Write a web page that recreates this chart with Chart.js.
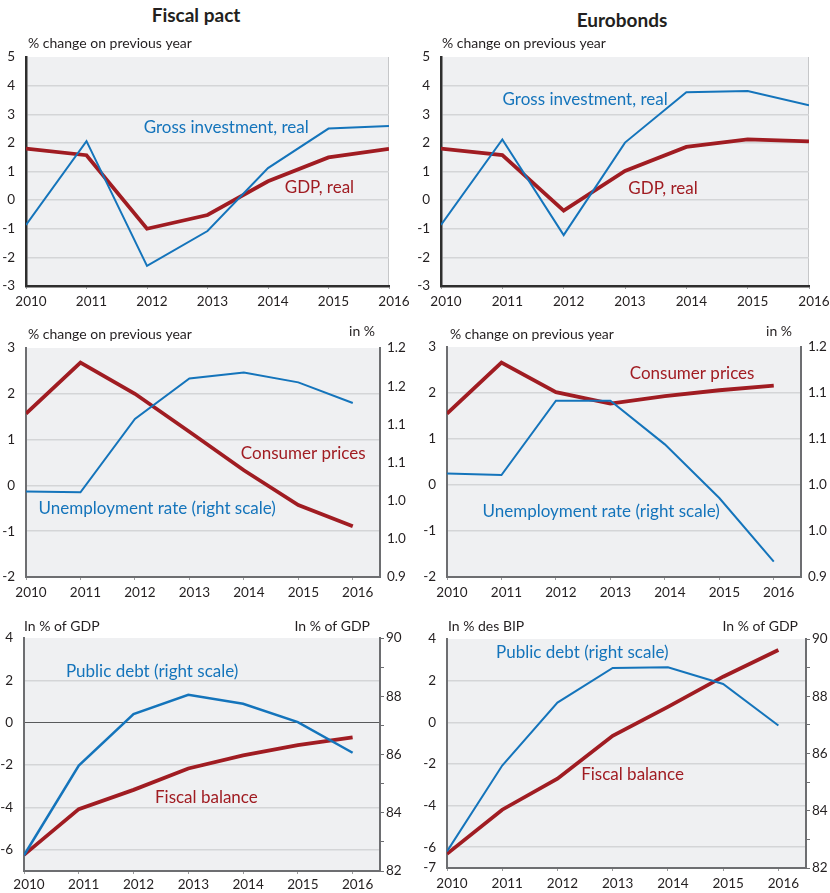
<!DOCTYPE html>
<html>
<head>
<meta charset="utf-8">
<script src="https://cdn.jsdelivr.net/npm/chart.js@4.4.1/dist/chart.umd.min.js"></script>
<style>
body { margin: 0; background: #fff; }
#wrap { position: relative; width: 830px; height: 893px; overflow: hidden; }
canvas { position: absolute; }
.title { position: absolute; font: bold 19px Lato; line-height: 20px; color: #231f20; transform: translateX(-50%); white-space: nowrap; }
</style>
</head>
<body>
<div id="wrap">
	<div class="title" style="left:196px;top:5px">Fiscal pact</div>
	<div class="title" style="left:622px;top:10px">Eurobonds</div>
	<canvas id="c1"></canvas>
	<canvas id="c2"></canvas>
	<canvas id="c3"></canvas>
	<canvas id="c4"></canvas>
	<canvas id="c5"></canvas>
	<canvas id="c6"></canvas>
</div>
<script>
"use strict";

// 1: data
const years = [2010, 2011, 2012, 2013, 2014, 2015, 2016];

// growth, % change on previous year
const fpGdp = [1.8, 1.57, -1.0, -0.52, 0.66, 1.49, 1.79];
const fpInvest = [-0.87, 2.06, -2.3, -1.08, 1.12, 2.5, 2.59];
const ebGdp = [1.8, 1.57, -0.37, 1.02, 1.86, 2.12, 2.05];
const ebInvest = [-0.87, 2.12, -1.22, 2.01, 3.77, 3.81, 3.31];

// consumer prices (left) and unemployment rate (right)
const fpPrices = [1.57, 2.68, 2.0, 1.17, 0.33, -0.43, -0.89];
const fpUnemp = [1.012, 1.011, 1.107, 1.160, 1.168, 1.155, 1.128];
const ebPrices = [1.55, 2.66, 2.02, 1.77, 1.93, 2.06, 2.16];
const ebUnemp = [1.035, 1.033, 1.13, 1.13, 1.073, 1.003, 0.92];

// fiscal balance (left) and public debt (right), in % of GDP
const fpBalance = [-6.24, -4.08, -3.17, -2.16, -1.54, -1.06, -0.69];
const fpDebt = [82.54, 85.62, 87.39, 88.05, 87.74, 87.11, 86.06];
const ebBalance = [-6.32, -4.2, -2.71, -0.65, 0.74, 2.19, 3.47];
const ebDebt = [82.58, 85.58, 87.78, 88.99, 89.01, 88.43, 86.98];

// tick values and labels
const growthTicks = [-3, -2, -1, 0, 1, 2, 3, 4, 5];
const priceTicks = [-2, -1, 0, 1, 2, 3];
const unempTicksFp = [0.9, 0.95, 1.0, 1.05, 1.1, 1.15, 1.2];
const unempLabelsFp = ['0.9', '1.0', '1.0', '1.1', '1.1', '1.2', '1.2'];
const unempTicksEb = [0.9, 0.96, 1.02, 1.08, 1.14, 1.2];
const unempLabelsEb = ['0.9', '1.0', '1.0', '1.1', '1.1', '1.2'];
const balanceTicksFp = [-6, -4, -2, 0, 2, 4];
const balanceTicksEb = [-7, -6, -4, -2, 0, 2, 4];
const debtTicks = [82, 83, 84, 85, 86, 87, 88, 89, 90];
const debtLabels = ['82', '', '84', '', '86', '', '88', '', '90'];

// 2: styles
const BLUE = '#1474bb';
const RED = '#a01c22';
const TEXT = '#231f20';
const BG = '#eff0f2';
const GRID = '#d4d5d7';
const DARK_AXIS = '#2e2e2e';
const GRAY_AXIS = '#6d6e71';
const MARGIN = { left: 24, top: 36, right: 44, bottom: 30 };

Chart.defaults.font.family = 'Lato';
Chart.defaults.color = TEXT;

function points(values) {
	return years.map((year, i) => ({ x: year, y: values[i] }));
}

function setTicks(values) {
	return scale => { scale.ticks = values.map(v => ({ value: v })); };
}

// background, axis titles and series labels
const panelDeco = {
	id: 'panelDeco',
	beforeDraw(chart, args, opts) {
		const { ctx, chartArea: a } = chart;
		ctx.save();
		ctx.fillStyle = BG;
		ctx.fillRect(a.left, a.top, a.right - a.left, a.bottom - a.top);
		if (opts.edge) {
			ctx.strokeStyle = '#c6c7c9';
			ctx.lineWidth = 1;
			ctx.beginPath();
			ctx.moveTo(a.right - 0.5, a.top);
			ctx.lineTo(a.right - 0.5, a.bottom);
			ctx.stroke();
		}
		ctx.restore();
	},
	afterDraw(chart, args, opts) {
		const { ctx, chartArea: a, scales } = chart;
		ctx.save();
		ctx.textBaseline = 'middle';
		ctx.font = '14px Lato';
		ctx.fillStyle = TEXT;
		for (const t of opts.titles) {
			ctx.textAlign = t.right ? 'right' : 'left';
			ctx.fillText(t.text, (t.right ? a.right : a.left) + t.dx, a.top + t.dy);
		}
		ctx.font = '17px Lato';
		ctx.textAlign = 'center';
		for (const l of opts.labels) {
			ctx.fillStyle = l.color;
			ctx.fillText(l.text, scales.x.getPixelForValue(l.x), scales.y.getPixelForValue(l.y));
		}
		ctx.restore();
	}
};

// 3: create a panel
function makePanel(id, plot, cfg) {
	const canvas = document.getElementById(id);
	canvas.style.left = (plot.l - MARGIN.left) + 'px';
	canvas.style.top = (plot.t - MARGIN.top) + 'px';
	canvas.width = plot.r - plot.l + MARGIN.left + MARGIN.right;
	canvas.height = plot.b - plot.t + MARGIN.top + MARGIN.bottom;

	const axisColor = cfg.dark ? DARK_AXIS : GRAY_AXIS;
	const axisWidth = cfg.dark ? 2.5 : 2;
	const leftTicks = cfg.left.ticks;
	const leftMax = leftTicks[leftTicks.length - 1];

	const scales = {
		x: {
			type: 'linear',
			min: 2010,
			max: cfg.xMax,
			afterBuildTicks: setTicks(years),
			afterFit: s => { s.height = MARGIN.bottom; },
			ticks: { callback: v => String(v), font: { size: 13.5 }, labelOffset: 5, padding: cfg.xPad, maxRotation: 0, autoSkip: false },
			grid: { drawOnChartArea: false, tickLength: 3, color: '#9a9b9d' },
			border: { color: axisColor, width: axisWidth }
		},
		y: {
			type: 'linear',
			position: 'left',
			min: cfg.left.min !== undefined ? cfg.left.min : leftTicks[0],
			max: leftMax,
			afterBuildTicks: setTicks(leftTicks),
			afterFit: s => { s.width = MARGIN.left; },
			ticks: { callback: v => String(v), font: { size: 13.5 }, padding: 11 },
			grid: {
				drawTicks: false,
				color: c => {
					if (c.tick.value === leftMax) return 'rgba(0,0,0,0)';
					if (cfg.zeroLine && c.tick.value === 0) return '#58595b';
					return GRID;
				},
				lineWidth: c => (cfg.zeroLine && c.tick && c.tick.value === 0) ? 1 : 1.5
			},
			border: { color: axisColor, width: axisWidth }
		}
	};

	if (cfg.right) {
		const r = cfg.right;
		scales.y1 = {
			type: 'linear',
			position: 'right',
			min: r.ticks[0],
			max: r.ticks[r.ticks.length - 1],
			afterBuildTicks: setTicks(r.ticks),
			afterFit: s => { s.width = MARGIN.right; },
			ticks: { callback: (v, i) => r.labels[i], font: { size: 13.5 }, padding: r.tickLen ? 2 : 7 },
			grid: { drawOnChartArea: false, drawTicks: !!r.tickLen, tickLength: r.tickLen || 0, color: GRAY_AXIS },
			border: { color: axisColor, width: axisWidth }
		};
	}

	const datasets = [{
		data: points(cfg.blue),
		borderColor: BLUE,
		borderWidth: cfg.blueWidth || 2,
		yAxisID: cfg.right ? 'y1' : 'y',
		order: 1
	}, {
		data: points(cfg.red),
		borderColor: RED,
		borderWidth: 3.8,
		yAxisID: 'y',
		order: 2
	}];

	return new Chart(canvas, {
		type: 'line',
		data: { datasets },
		options: {
			responsive: false,
			animation: false,
			devicePixelRatio: 1,
			layout: { padding: { top: MARGIN.top, left: 0, bottom: 0, right: cfg.right ? 0 : MARGIN.right } },
			elements: { point: { radius: 0 }, line: { tension: 0, borderCapStyle: 'butt', borderJoinStyle: 'miter' } },
			scales,
			plugins: {
				legend: { display: false },
				tooltip: { enabled: false },
				panelDeco: { edge: !cfg.right, titles: cfg.titles, labels: cfg.labels }
			}
		},
		plugins: [panelDeco]
	});
}

// 4: the six panels
makePanel('c1', { l: 26, t: 57, r: 389, b: 286 }, {
	dark: true, xMax: 2016, xPad: 5,
	left: { ticks: growthTicks },
	blue: fpInvest, red: fpGdp,
	titles: [{ text: '% change on previous year', dx: 2, dy: -14 }],
	labels: [
		{ text: 'Gross investment, real', x: 2013.31, y: 2.55, color: BLUE },
		{ text: 'GDP, real', x: 2014.85, y: 0.45, color: RED }
	]
});

makePanel('c2', { l: 441, t: 57, r: 809, b: 286 }, {
	dark: true, xMax: 2016, xPad: 5,
	left: { ticks: growthTicks },
	blue: ebInvest, red: ebGdp,
	titles: [{ text: '% change on previous year', dx: 1, dy: -14 }],
	labels: [
		{ text: 'Gross investment, real', x: 2012.35, y: 3.53, color: BLUE },
		{ text: 'GDP, real', x: 2013.62, y: 0.42, color: RED }
	]
});

makePanel('c3', { l: 26, t: 348, r: 380, b: 577 }, {
	xMax: 2016.5, xPad: 5,
	left: { ticks: priceTicks },
	right: { ticks: unempTicksFp, labels: unempLabelsFp },
	blue: fpUnemp, red: fpPrices,
	titles: [
		{ text: '% change on previous year', dx: 2, dy: -14 },
		{ text: 'in %', dx: -5, dy: -17, right: true }
	],
	labels: [
		{ text: 'Consumer prices', x: 2015.09, y: 0.70, color: RED },
		{ text: 'Unemployment rate (right scale)', x: 2012.41, y: -0.50, color: BLUE }
	]
});

makePanel('c4', { l: 447, t: 347, r: 801, b: 577 }, {
	xMax: 2016.5, xPad: 5,
	left: { ticks: priceTicks },
	right: { ticks: unempTicksEb, labels: unempLabelsEb },
	blue: ebUnemp, red: ebPrices,
	titles: [
		{ text: '% change on previous year', dx: 3, dy: -13 },
		{ text: 'in %', dx: -9, dy: -16, right: true }
	],
	labels: [
		{ text: 'Consumer prices', x: 2014.5, y: 2.42, color: RED },
		{ text: 'Unemployment rate (right scale)', x: 2012.83, y: -0.57, color: BLUE }
	]
});

makePanel('c5', { l: 24, t: 638, r: 380, b: 871 }, {
	xMax: 2016.5, zeroLine: true, blueWidth: 2.5, xPad: 3,
	left: { ticks: balanceTicksFp, min: -7 },
	right: { ticks: debtTicks, labels: debtLabels, tickLen: 4 },
	blue: fpDebt, red: fpBalance,
	titles: [
		{ text: 'In % of GDP', dx: 0, dy: -12 },
		{ text: 'In % of GDP', dx: -10, dy: -12, right: true }
	],
	labels: [
		{ text: 'Public debt (right scale)', x: 2012.34, y: 2.44, color: BLUE },
		{ text: 'Fiscal balance', x: 2013.33, y: -3.51, color: RED }
	]
});

makePanel('c6', { l: 447, t: 639, r: 806, b: 868 }, {
	xMax: 2016.5, xPad: 5,
	left: { ticks: balanceTicksEb },
	right: { ticks: debtTicks, labels: debtLabels, tickLen: 4 },
	blue: ebDebt, red: ebBalance,
	titles: [
		{ text: 'In % des BIP', dx: 1, dy: -13 },
		{ text: 'In % of GDP', dx: -8, dy: -13, right: true }
	],
	labels: [
		{ text: 'Public debt (right scale)', x: 2012.45, y: 3.33, color: BLUE },
		{ text: 'Fiscal balance', x: 2013.36, y: -2.49, color: RED }
	]
});
</script>
</body>
</html>
